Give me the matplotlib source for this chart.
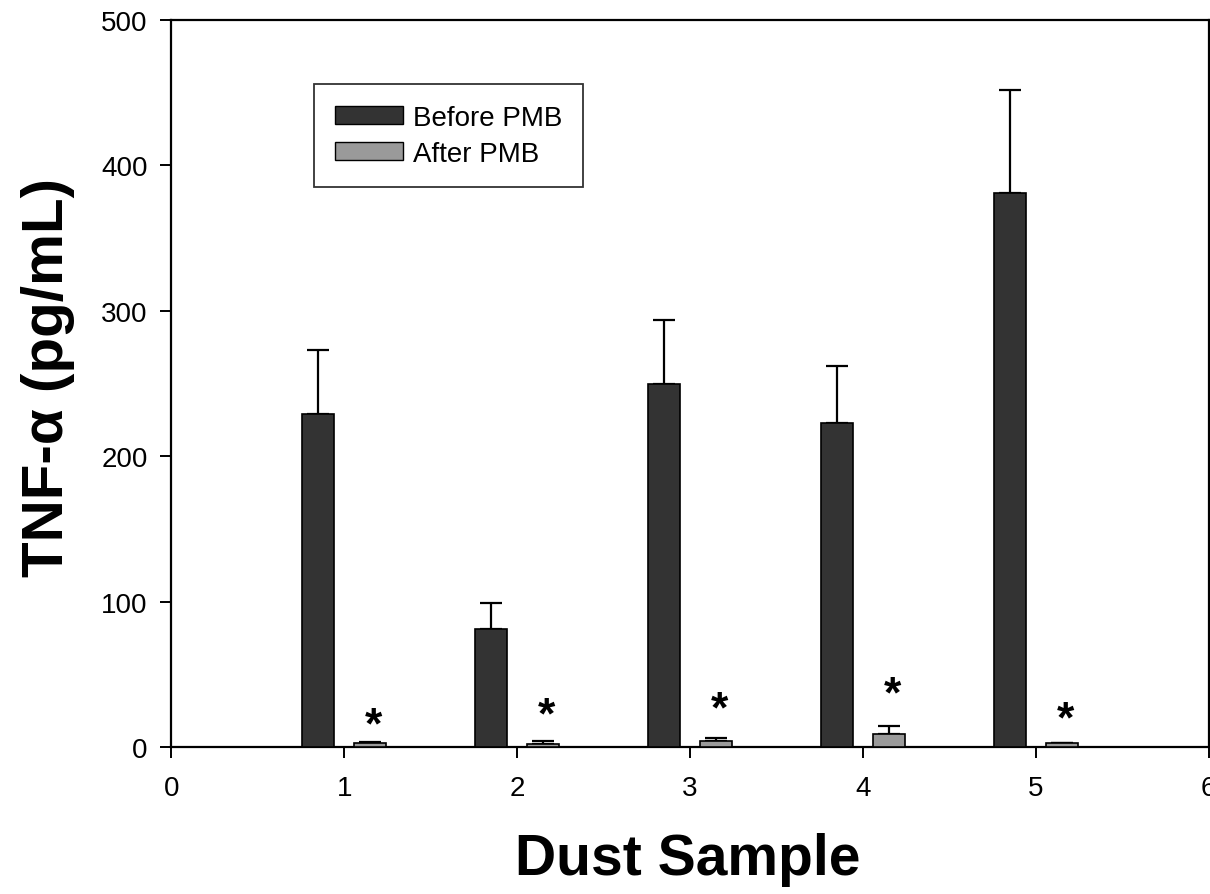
import matplotlib.pyplot as plt
import numpy as np
from matplotlib.patches import Patch

plt.rcParams["font.family"] = ["Liberation Sans", "DejaVu Sans"]

samples = [1, 2, 3, 4, 5]
before_vals = [229, 81, 250, 223, 381]
before_err = [44, 18, 44, 39, 71]
after_vals = [3, 2, 4, 9, 2.5]
after_err = [0.5, 2, 2, 5.5, 0.5]
star_y = [24, 31, 35, 45, 28]

bar_width = 0.185
offset = 0.15

fig = plt.figure(figsize=(12.1, 8.95), dpi=100)
ax = fig.add_axes([0.1415, 0.1642, 0.8575, 0.8123])

x = np.array(samples, dtype=float)
ax.bar(x - offset, before_vals, width=bar_width, color="#333333",
       edgecolor="black", linewidth=1.2, zorder=3)
ax.bar(x + offset, after_vals, width=bar_width, color="#9a9a9a",
       edgecolor="black", linewidth=1.2, zorder=3)

zeros = np.zeros(len(samples))
ax.errorbar(x - offset, before_vals, yerr=[zeros, before_err], fmt="none",
            ecolor="black", elinewidth=1.6, capsize=8, capthick=1.6, zorder=2)
ax.errorbar(x + offset, after_vals, yerr=[zeros, after_err], fmt="none",
            ecolor="black", elinewidth=1.6, capsize=8, capthick=1.6, zorder=2)

# asterisks: star_y is where the glyph centre sits
for xi, yi in zip(x, star_y):
    ax.annotate("*", (xi + 0.17, yi), xytext=(0, -18), textcoords="offset points",
                ha="center", va="baseline", fontsize=32, fontweight="bold")

ax.set_xlim(0, 6)
ax.set_ylim(0, 500)
ax.set_xticks(range(0, 7))
ax.set_yticks(range(0, 501, 100))
ax.tick_params(direction="out", length=8, width=1.4, labelsize=20)
ax.tick_params(axis="x", pad=12)
ax.tick_params(axis="y", pad=9)
for sp in ax.spines.values():
    sp.set_linewidth(1.6)

ax.set_xlabel("Dust Sample", fontsize=41, fontweight="bold")
ax.xaxis.set_label_coords(0.498, -0.117)
ax.set_ylabel("TNF-\u03b1 (pg/mL)", fontsize=42, fontweight="bold")
ax.yaxis.set_label_coords(-0.0925, 0.509)

handles = [Patch(facecolor="#333333", edgecolor="black", label="Before PMB"),
           Patch(facecolor="#9a9a9a", edgecolor="black", label="After PMB")]
leg = ax.legend(handles=handles, loc="upper left", bbox_to_anchor=(0.1378, 0.912),
                fontsize=20, frameon=True, fancybox=False, edgecolor="black",
                handlelength=2.45, handleheight=0.6, borderpad=0.75,
                labelspacing=0.35, handletextpad=0.35, borderaxespad=0)
leg.get_frame().set_linewidth(1.3)

fig.savefig("out.png", dpi=100)
